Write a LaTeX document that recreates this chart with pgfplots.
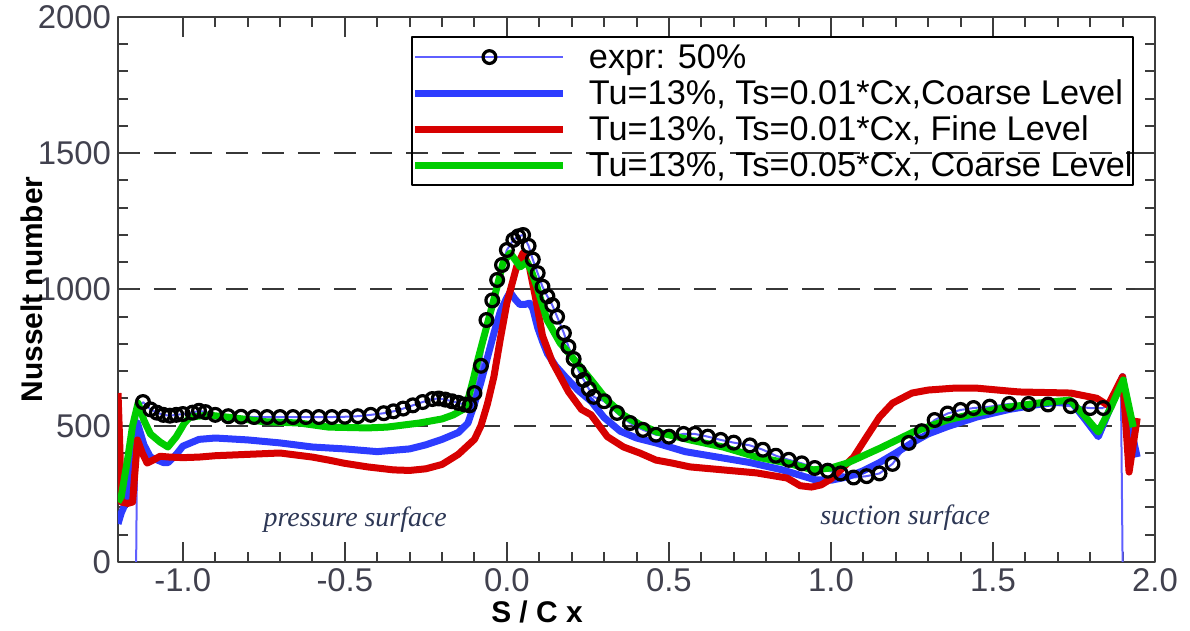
\documentclass[border=0pt]{standalone}
\usepackage{pgfplots}
\pgfplotsset{compat=1.18}
\usetikzlibrary{calc}
\usepackage{fontspec}
\setmainfont{Liberation Sans}
\newfontfamily\annfont{Liberation Serif}
\definecolor{axisgray}{RGB}{60,60,60}
\definecolor{gridgray}{RGB}{55,55,55}
\definecolor{ticktext}{RGB}{65,65,78}
\definecolor{annot}{RGB}{45,55,85}
\definecolor{cblue}{RGB}{45,60,255}
\definecolor{cred}{RGB}{215,0,0}
\definecolor{cgreen}{RGB}{0,205,0}
\definecolor{thinblue}{RGB}{95,95,255}
\pgfplotsset{
  longline/.style={legend image code/.code={\draw[##1] (0bp,0bp) -- (74bp,0bp);}},
  exprimg/.style={legend image code/.code={\draw[mark repeat=2, mark phase=2, ##1] plot coordinates {(0bp,0bp) (37bp,0bp) (74bp,0bp)};}},
}
\begin{document}
\begin{tikzpicture}
\begin{axis}[
  name=ax, scale only axis, width=518.5bp, height=272.5bp,
  xmin=-1.2, xmax=2.0, ymin=0, ymax=2000,
  xtick={-1,-0.5,0,0.5,1,1.5,2}, ytick={0,500,1000,1500,2000},
  minor x tick num=4, minor y tick num=4,
  tick align=inside, major tick length=10bp, minor tick length=5bp,
  axis line style={line width=1.2bp, draw=axisgray},
  every tick/.style={line width=1bp, draw=axisgray},
  ymajorgrids,
  major grid style={line width=1bp, draw=gridgray, dash pattern=on 11bp off 7bp},
  /pgf/number format/assume math mode=true,
  /pgf/number format/1000 sep={},
  tick label style={font=\fontsize{16.5}{18}\selectfont, text=ticktext},
  xticklabel style={/pgf/number format/.cd, fixed, fixed zerofill, precision=1},
  xlabel={\textbf{S / C x}},
  xlabel style={at={(axis description cs:0.404,-0.092)}, anchor=center, font=\fontsize{15}{16}\selectfont, text=black},
  ylabel={\textbf{Nusselt number}},
  ylabel style={at={(axis description cs:-0.083,0.5)}, anchor=center, font=\fontsize{15}{16}\selectfont, text=black},
  legend cell align=left,
  legend style={at={(axis description cs:0.2825,0.965)}, anchor=north west,
    draw=black, line width=1bp, fill=none, inner xsep=0pt, inner ysep=1.5bp,
    row sep=1bp, column sep=11bp,
    font=\fontsize{17.2}{18}\selectfont, text=black,
    nodes={inner sep=0pt, text height=14bp, text depth=3bp}},
  longline,
  line join=round,
]
% experiment: thin blue line to zero at the ends
\addplot[forget plot, thinblue, line width=1bp] coordinates {(-1.144,0) (-1.14,560) (-1.123,587)};
\addplot[forget plot, thinblue, line width=1bp] coordinates {(1.84,565) (1.895,620) (1.9,0)};
\addplot[thinblue, line width=1bp, mark=o, mark size=3.2bp,
  mark options={draw=black, line width=1.6bp, solid}, exprimg]
coordinates {
(-1.123,587) (-1.10,560) (-1.08,548) (-1.06,540) (-1.04,537) (-1.02,540) (-1.0,543)
(-0.97,548) (-0.95,555) (-0.93,550) (-0.9,540) (-0.86,535) (-0.82,533) (-0.78,532)
(-0.74,532) (-0.70,532) (-0.66,532) (-0.62,532) (-0.58,532) (-0.54,532) (-0.50,533)
(-0.46,535) (-0.42,540) (-0.38,546) (-0.35,553) (-0.32,563) (-0.29,575) (-0.26,587)
(-0.23,598) (-0.21,600) (-0.19,596) (-0.17,590) (-0.15,584) (-0.13,578) (-0.115,575)
(-0.10,620) (-0.08,720) (-0.063,888) (-0.045,960) (-0.03,1035) (-0.015,1090)
(0.0,1145) (0.02,1182) (0.035,1195) (0.05,1200) (0.067,1160) (0.08,1110) (0.095,1060)
(0.11,1010) (0.125,975) (0.14,943) (0.155,900) (0.176,840) (0.19,790) (0.206,745)
(0.222,700) (0.237,668) (0.253,635) (0.268,606) (0.30,590) (0.34,547) (0.38,510)
(0.42,485) (0.46,467) (0.50,460) (0.545,470) (0.58,470) (0.62,460) (0.66,448)
(0.70,438) (0.75,428) (0.79,412) (0.83,390) (0.87,375) (0.91,362) (0.95,345)
(0.99,335) (1.03,325) (1.07,310) (1.11,315) (1.15,325) (1.19,360) (1.24,437)
(1.28,480) (1.32,521) (1.36,545) (1.40,558) (1.44,565) (1.49,570) (1.55,580)
(1.61,580) (1.67,578) (1.74,572) (1.80,565) (1.84,565)
};
\addlegendentry{expr: 50\%}
% coarse level Ts=0.01
\addplot[cblue, line width=3.5bp] coordinates {
(-1.2,140) (-1.19,180) (-1.175,220) (-1.16,400) (-1.14,510) (-1.12,430) (-1.10,385)
(-1.08,375) (-1.06,365) (-1.045,365) (-1.02,395) (-1.0,425) (-0.95,450) (-0.9,455)
(-0.8,448) (-0.7,437) (-0.6,422) (-0.5,415) (-0.4,405) (-0.3,415) (-0.25,430)
(-0.2,450) (-0.15,475) (-0.12,510) (-0.1,580) (-0.08,660) (-0.06,750) (-0.04,840)
(-0.02,920) (0.0,970) (0.01,990) (0.025,965) (0.04,945) (0.055,945) (0.07,950)
(0.08,930) (0.095,860) (0.11,810) (0.125,765) (0.15,720) (0.18,680) (0.22,630)
(0.26,590) (0.30,530) (0.35,480) (0.40,455) (0.46,437) (0.55,405) (0.65,385)
(0.75,365) (0.85,338) (0.95,302) (1.0,300) (1.05,312) (1.1,335) (1.15,365)
(1.2,400) (1.25,437) (1.3,470) (1.36,497) (1.45,532) (1.55,560) (1.65,580)
(1.74,590) (1.78,530) (1.825,460) (1.86,560) (1.9,680) (1.92,520) (1.945,385)
};
\addlegendentry{Tu=13\%, Ts=0.01*Cx,Coarse Level}
% fine level Ts=0.01
\addplot[cred, line width=3.5bp] coordinates {
(-1.2,620) (-1.195,450) (-1.19,220) (-1.17,215) (-1.155,220) (-1.14,448) (-1.125,400)
(-1.11,363) (-1.09,375) (-1.07,388) (-1.04,385) (-1.0,383) (-0.95,385) (-0.9,390)
(-0.8,395) (-0.7,400) (-0.6,385) (-0.55,374) (-0.5,362) (-0.43,349) (-0.35,338)
(-0.3,336) (-0.25,342) (-0.2,358) (-0.15,395) (-0.1,450) (-0.08,500) (-0.06,580)
(-0.04,680) (-0.02,820) (0.0,950) (0.03,1083) (0.05,1134) (0.07,1080) (0.09,960)
(0.11,830) (0.14,735) (0.19,625) (0.23,560) (0.26,540) (0.31,460) (0.36,422)
(0.41,400) (0.46,374) (0.51,363) (0.565,349) (0.667,338) (0.77,327) (0.865,308)
(0.905,280) (0.94,275) (0.97,283) (1.0,305) (1.03,338) (1.07,385) (1.11,459)
(1.15,532) (1.19,583) (1.25,620) (1.3,631) (1.38,638) (1.45,638) (1.58,624)
(1.74,620) (1.82,601) (1.855,575) (1.9,680) (1.92,330) (1.945,528)
};
\addlegendentry{Tu=13\%, Ts=0.01*Cx, Fine Level}
% coarse level Ts=0.05
\addplot[cgreen, line width=3.5bp] coordinates {
(-1.2,220) (-1.19,240) (-1.17,380) (-1.155,500) (-1.138,583) (-1.12,520) (-1.1,470)
(-1.07,440) (-1.046,422) (-1.02,460) (-0.995,510) (-0.978,532) (-0.92,539) (-0.85,530)
(-0.75,515) (-0.64,510) (-0.55,495) (-0.43,492) (-0.37,495) (-0.27,510) (-0.2,525)
(-0.165,540) (-0.135,560) (-0.123,583) (-0.104,668) (-0.09,740) (-0.07,830)
(-0.043,950) (-0.012,1097) (0.01,1134) (0.025,1110) (0.041,1083) (0.062,1101)
(0.075,1070) (0.093,1009) (0.124,888) (0.164,804) (0.217,730) (0.26,668) (0.309,594)
(0.36,539) (0.41,505) (0.464,477) (0.565,448) (0.667,422) (0.772,385) (0.865,363)
(0.945,338) (1.0,345) (1.05,363) (1.152,418) (1.254,477) (1.359,521) (1.451,547)
(1.532,565) (1.636,583) (1.738,594) (1.78,540) (1.825,477) (1.865,570) (1.902,668)
(1.933,495)
};
\addlegendentry{Tu=13\%, Ts=0.05*Cx, Coarse Level}
\node[font=\annfont\itshape\fontsize{14}{15}\selectfont, text=annot] at (axis cs:-0.468,154) {pressure surface};
\node[font=\annfont\itshape\fontsize{14}{15}\selectfont, text=annot] at (axis cs:1.229,161) {suction surface};
\end{axis}
\pgfresetboundingbox
\path ($(ax.south west)+(-59bp,-34.5bp)$) rectangle ($(ax.north east)+(17.5bp,8.5bp)$);
\end{tikzpicture}
\end{document}
